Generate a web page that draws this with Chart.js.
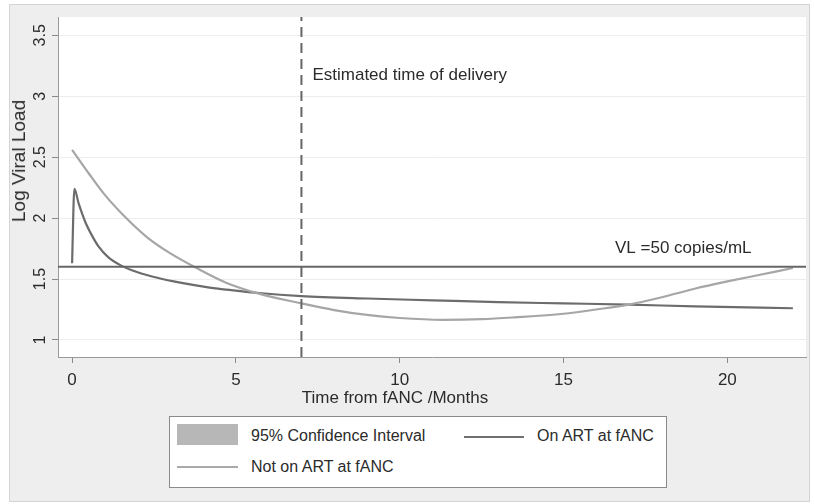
<!DOCTYPE html>
<html>
<head>
<meta charset="utf-8">
<script src="https://cdn.jsdelivr.net/npm/chart.js@4/dist/chart.umd.min.js"></script>
<style>
  body { margin: 0; background: #ffffff; font-family: "Liberation Sans", Arial, sans-serif; color: #2b2b2b; }
  #wrap { position: relative; width: 814px; height: 504px; }
  #frame { position: absolute; left: 9px; top: 4px; width: 799px; height: 496px; background: #eeeeee; border: 1px solid #d4d4d4; }
  canvas { position: absolute; left: 0; top: 0; }
  .txt { position: absolute; white-space: nowrap; font-size: 16px; line-height: 20px; }
  #ytitle { left: 19px; top: 161px; transform: translate(-50%, -50%) rotate(-90deg); font-size: 19px; }
  #xtitle { left: 395px; top: 398px; transform: translate(-50%, -50%); font-size: 17px; }
  #legend { position: absolute; left: 169px; top: 416px; width: 496px; height: 70px; background: #fff; border: 1px solid #8a8a8a; }
  .sw { position: absolute; }
</style>
</head>
<body>
<div id="wrap">
  <div id="frame"></div>
  <canvas id="vlChart" width="814" height="504"></canvas>
  <div class="txt" id="ytitle">Log Viral Load</div>
  <div class="txt" id="xtitle">Time from fANC /Months</div>
  <div id="legend">
    <div class="sw" style="left:7px;top:7px;width:61px;height:21px;background:#b7b7b7"></div>
    <div class="txt" style="left:81px;top:9px">95% Confidence Interval</div>
    <div class="sw" style="left:294px;top:19px;width:60px;height:2px;background:#6f6f6f"></div>
    <div class="txt" style="left:367px;top:9px">On ART at fANC</div>
    <div class="sw" style="left:7px;top:49px;width:61px;height:2px;background:#a9a9a9"></div>
    <div class="txt" style="left:81px;top:40px">Not on ART at fANC</div>
  </div>
</div>
<script>
// values (months since first ANC visit, log10 viral load)
const onArtMonths = [0, 0.07, 0.2, 0.4, 0.6, 0.8, 1.1, 1.5, 2.0, 2.6, 3.3, 4.2, 5.0, 5.7, 7.0, 9.0, 11.0, 13.0, 15.0, 17.0, 19.0, 22.0];
const onArtVL = [1.63, 2.24, 2.12, 1.97, 1.86, 1.77, 1.68, 1.61, 1.555, 1.51, 1.47, 1.43, 1.405, 1.385, 1.36, 1.34, 1.325, 1.31, 1.30, 1.29, 1.275, 1.26];

const notOnArtMonths = [0, 0.5, 1.0, 1.65, 2.3, 3.0, 3.8, 4.7, 5.7, 7.0, 8.0, 9.0, 10.0, 11.3, 12.5, 13.5, 15.0, 16.0, 17.0, 18.0, 19.0, 20.0, 21.0, 22.0];
const notOnArtVL = [2.56, 2.37, 2.19, 2.0, 1.84, 1.71, 1.59, 1.47, 1.38, 1.30, 1.245, 1.205, 1.18, 1.165, 1.17, 1.185, 1.215, 1.25, 1.29, 1.35, 1.42, 1.48, 1.535, 1.59];

const vlThreshold = 1.6;
const deliveryMonth = 7;

const xTicks = [0, 5, 10, 15, 20];
const yTicks = [1, 1.5, 2, 2.5, 3, 3.5];
const yTickLabels = ['1', '1.5', '2', '2.5', '3', '3.5'];

const xMin = -0.43, xMax = 22.4;
const yMin = 0.86, yMax = 3.65;

const toPoints = (xs, ys) => xs.map((x, i) => ({ x: x, y: ys[i] }));

const FONT = '"Liberation Sans", Arial, sans-serif';

// white plot region + rotated y labels + in-plot notes
const decor = {
    id: 'decor',
    beforeDraw(chart) {
        const { ctx, chartArea: a } = chart;
        ctx.save();
        ctx.fillStyle = '#ffffff';
        ctx.fillRect(a.left, a.top, a.right - a.left, a.bottom - a.top);
        ctx.restore();
    },
    afterDraw(chart) {
        const { ctx, scales } = chart;
        ctx.save();
        ctx.fillStyle = '#2b2b2b';
        ctx.font = '16px ' + FONT;
        ctx.textAlign = 'center';
        ctx.textBaseline = 'middle';
        yTicks.forEach((v, i) => {
            const py = scales.y.getPixelForValue(v);
            ctx.save();
            ctx.translate(41, py);
            ctx.rotate(-Math.PI / 2);
            ctx.fillText(yTickLabels[i], 0, 0);
            ctx.restore();
        });
        ctx.font = '17px ' + FONT;
        ctx.textAlign = 'left';
        ctx.fillText('Estimated time of delivery', scales.x.getPixelForValue(deliveryMonth) + 11, 75);
        ctx.fillText('VL =50 copies/mL', 615, scales.y.getPixelForValue(vlThreshold) - 19);
        ctx.restore();
    }
};

new Chart(document.getElementById('vlChart').getContext('2d'), {
    type: 'line',
    data: {
        datasets: [
            {
                label: 'VL =50 copies/mL',
                data: [{ x: xMin, y: vlThreshold }, { x: xMax, y: vlThreshold }],
                borderColor: '#666666',
                borderWidth: 2,
                pointRadius: 0
            },
            {
                label: 'Estimated time of delivery',
                data: [{ x: deliveryMonth, y: yMin }, { x: deliveryMonth, y: yMax }],
                borderColor: '#666666',
                borderWidth: 2,
                borderDash: [10, 6],
                pointRadius: 0
            },
            {
                label: 'Not on ART at fANC',
                data: toPoints(notOnArtMonths, notOnArtVL),
                borderColor: '#a6a6a6',
                borderWidth: 2.2,
                pointRadius: 0,
                cubicInterpolationMode: 'monotone'
            },
            {
                label: 'On ART at fANC',
                data: toPoints(onArtMonths, onArtVL),
                borderColor: '#6c6c6c',
                borderWidth: 2.2,
                pointRadius: 0,
                cubicInterpolationMode: 'monotone'
            }
        ]
    },
    options: {
        responsive: false,
        animation: false,
        events: [],
        layout: { padding: { left: 0, top: 17, right: 8, bottom: 0 } },
        plugins: { legend: { display: false }, tooltip: { enabled: false } },
        scales: {
            x: {
                type: 'linear',
                min: xMin,
                max: xMax,
                afterBuildTicks: (s) => { s.ticks = xTicks.map(v => ({ value: v })); },
                afterFit: (s) => { s.height = 147; },
                grid: { drawOnChartArea: false, drawTicks: true, tickLength: 6, tickColor: '#8a8a8a' },
                border: { display: true, color: '#9a9a9a', width: 1 },
                ticks: { color: '#2b2b2b', font: { family: FONT, size: 17 }, padding: 7, maxRotation: 0 }
            },
            y: {
                type: 'linear',
                min: yMin,
                max: yMax,
                afterBuildTicks: (s) => { s.ticks = yTicks.map(v => ({ value: v })); },
                afterFit: (s) => { s.width = 58; },
                grid: { color: '#ededed', drawTicks: true, tickLength: 6, tickColor: '#8a8a8a' },
                border: { display: true, color: '#9a9a9a', width: 1 },
                ticks: { color: 'rgba(0,0,0,0)', font: { size: 1 } }
            }
        }
    },
    plugins: [decor]
});
</script>
</body>
</html>
